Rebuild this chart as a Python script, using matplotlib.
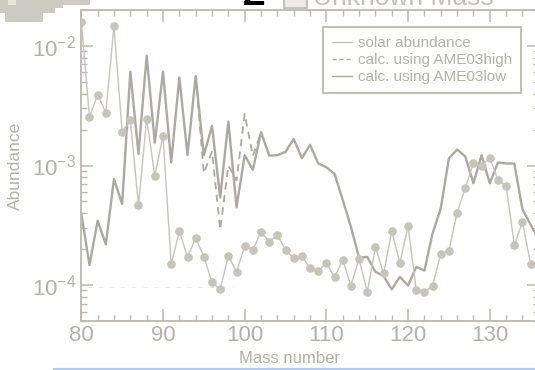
"""Abundance pattern around A=80-136: solar values vs. calculations with the
AME03 high/low mass extrapolations.

Writes out.png
"""

import matplotlib
matplotlib.use("Agg")
import matplotlib.pyplot as plt
from matplotlib.lines import Line2D
from matplotlib.patches import Rectangle
from matplotlib.ticker import LogLocator, MultipleLocator


# ----------------------------------------------------------------------
# Data
# ----------------------------------------------------------------------
mass_solar = list(range(80, 136))
solar = [
    1.59e-2, 2.55e-3, 3.92e-3, 2.77e-3, 1.46e-2, 1.90e-3, 2.40e-3, 4.65e-4,
    2.45e-3, 8.20e-4, 1.77e-3, 1.49e-4, 2.83e-4, 1.71e-4, 2.47e-4, 1.73e-4,
    1.05e-4, 9.20e-5, 1.76e-4, 1.29e-4, 2.12e-4, 1.96e-4, 2.79e-4, 2.30e-4,
    2.62e-4, 1.96e-4, 1.69e-4, 1.74e-4, 1.38e-4, 1.32e-4, 1.52e-4, 1.16e-4,
    1.62e-4, 9.90e-5, 1.66e-4, 8.70e-5, 2.08e-4, 1.25e-4, 2.81e-4, 1.54e-4,
    3.10e-4, 9.10e-5, 8.70e-5, 9.90e-5, 1.82e-4, 1.94e-4, 4.03e-4, 6.50e-4,
    1.05e-3, 9.96e-4, 1.16e-3, 7.57e-4, 6.74e-4, 2.17e-4, 3.36e-4, 1.49e-4,
]

mass_calc = list(range(80, 137))
calc_low = [
    3.98e-4, 1.47e-4, 3.45e-4, 2.19e-4, 7.70e-4, 4.76e-4, 6.10e-3, 1.25e-3,
    8.30e-3, 1.55e-3, 6.10e-3, 1.06e-3, 5.47e-3, 1.22e-3, 5.60e-3, 1.22e-3,
    2.14e-3, 5.40e-4, 2.33e-3, 4.47e-4, 1.22e-3, 9.20e-4, 1.90e-3, 1.21e-3,
    1.22e-3, 1.30e-3, 1.67e-3, 1.15e-3, 1.49e-3, 1.04e-3, 9.66e-4, 8.50e-4,
    5.15e-4, 3.08e-4, 1.69e-4, 1.72e-4, 1.29e-4, 1.19e-4, 9.20e-5, 1.17e-4,
    9.90e-5, 1.42e-4, 1.32e-4, 2.71e-4, 4.38e-4, 1.15e-3, 1.36e-3, 1.19e-3,
    7.10e-4, 1.22e-3, 7.10e-4, 1.06e-3, 1.04e-3, 1.04e-3, 4.30e-4, 3.20e-4,
    2.40e-4,
]

# AME03high only departs from AME03low between A=94 and A=102
mass_high = list(range(94, 103))
calc_high = [
    5.60e-3, 8.60e-4, 1.31e-3, 2.90e-4, 1.00e-3, 7.50e-4, 2.70e-3, 1.20e-3,
    1.90e-3,
]

guide_mass = [80.7, 98.5]
guide_level = [9.6e-5, 9.6e-5]

legend_labels = ["solar abundance", "calc. using AME03high", "calc. using AME03low"]

GREY_TEXT = "#b3b1a9"
GREY_AXIS = "#bbb9b1"
GREY_SOLAR = "#c6c4bc"
GREY_CALC = "#aba9a1"


def main():
    plt.rcParams["font.family"] = ["Liberation Sans", "DejaVu Sans"]
    plt.rcParams["mathtext.fontset"] = "custom"
    plt.rcParams["mathtext.rm"] = "Liberation Sans"
    plt.rcParams["mathtext.it"] = "Liberation Sans:italic"

    fig = plt.figure(figsize=(5.35, 3.70), dpi=100)
    W, H = 535.0, 370.0
    # axes run past the right edge of the canvas
    ax = fig.add_axes([81.3 / W, 49 / H, 457.5 / W, 311 / H])

    ax.plot(guide_mass, guide_level, color="#ecebe6", lw=0.8, ls=(0, (4, 6)), zorder=1)
    ax.plot(mass_solar, solar, color=GREY_SOLAR, lw=1.0, marker="o", ms=6.2,
            mec="none", mfc=GREY_SOLAR, zorder=3)
    ax.plot(mass_high, calc_high, color=GREY_CALC, lw=1.3, ls=(0, (4, 3)), zorder=2)
    ax.plot(mass_calc, calc_low, color=GREY_CALC, lw=1.7, zorder=2)

    ax.set_yscale("log")
    ax.set_xlim(80, 136)
    ax.set_ylim(5e-5, 2e-2)

    ax.xaxis.set_major_locator(MultipleLocator(10))
    ax.xaxis.set_minor_locator(MultipleLocator(2))
    ax.yaxis.set_major_locator(LogLocator(base=10))
    ax.yaxis.set_minor_locator(LogLocator(base=10, subs=range(2, 10)))

    for side in ax.spines.values():
        side.set_color(GREY_AXIS)
        side.set_linewidth(1.3)
    ax.tick_params(which="both", direction="in", top=True, right=True,
                   color=GREY_AXIS, labelcolor=GREY_TEXT, labelsize=16)
    ax.tick_params(which="major", length=8.6, width=1.1)
    ax.tick_params(which="minor", length=4.3, width=1.0)
    ax.tick_params(axis="x", pad=3)
    ax.tick_params(axis="y", pad=4)

    ax.set_xlabel("Mass number", fontsize=12, color=GREY_TEXT)
    ax.xaxis.set_label_coords(0.456, -0.098)
    ax.set_ylabel("Abundance", fontsize=12.5, color=GREY_TEXT)
    ax.yaxis.set_label_coords(-0.128, 0.5)

    handles = [
        Line2D([], [], color=GREY_SOLAR, lw=1.0),
        Line2D([], [], color=GREY_CALC, lw=1.0, ls=(0, (3, 2))),
        Line2D([], [], color=GREY_CALC, lw=1.0),
    ]
    leg = fig.legend(handles, legend_labels, loc="upper right",
                     bbox_to_anchor=(521 / W, 1 - 27 / H), borderaxespad=0,
                     fontsize=11, handlelength=1.3, handletextpad=0.35,
                     labelspacing=0.2, borderpad=0.6, fancybox=False,
                     framealpha=1)
    leg.get_frame().set_edgecolor(GREY_AXIS)
    leg.get_frame().set_linewidth(1.3)
    for t in leg.get_texts():
        t.set_color(GREY_TEXT)

    # bits of the neighbouring panel above
    for x0, y0, w, h in [(0, 0, 90, 5), (0, 5, 63, 3), (0, 8, 55, 5), (5, 13, 38, 9)]:
        fig.patches.append(Rectangle((x0 / W, 1 - (y0 + h) / H), w / W, h / H,
                                     transform=fig.transFigure, color="#cbcac3",
                                     lw=0, zorder=0))
    fig.patches.append(Rectangle((8 / W, 1 - 5 / H), 8 / W, 5 / H,
                                 transform=fig.transFigure, color="#e6e5e0",
                                 lw=0, zorder=0))
    fig.text(254 / W, 1 - 5 / H, "Z", fontsize=26, color="black",
             ha="center", va="baseline", fontweight="bold")
    fig.patches.append(Rectangle((284 / W, 1 - 8 / H), 23 / W, 20 / H,
                                 transform=fig.transFigure, facecolor="#ebeae6",
                                 edgecolor=GREY_AXIS, lw=1.2, zorder=1))
    fig.text(313 / W, 1 - 5 / H, "Unknown Mass", fontsize=19, color="#c3c1ba",
             ha="left", va="baseline")

    fig.lines.append(Line2D([54 / W, 1.0], [1 - 368.5 / H, 1 - 368.5 / H],
                            transform=fig.transFigure, color="#b3cbea", lw=1.5,
                            zorder=0))

    fig.savefig("out.png", dpi=100)
    plt.close(fig)


if __name__ == "__main__":
    main()
